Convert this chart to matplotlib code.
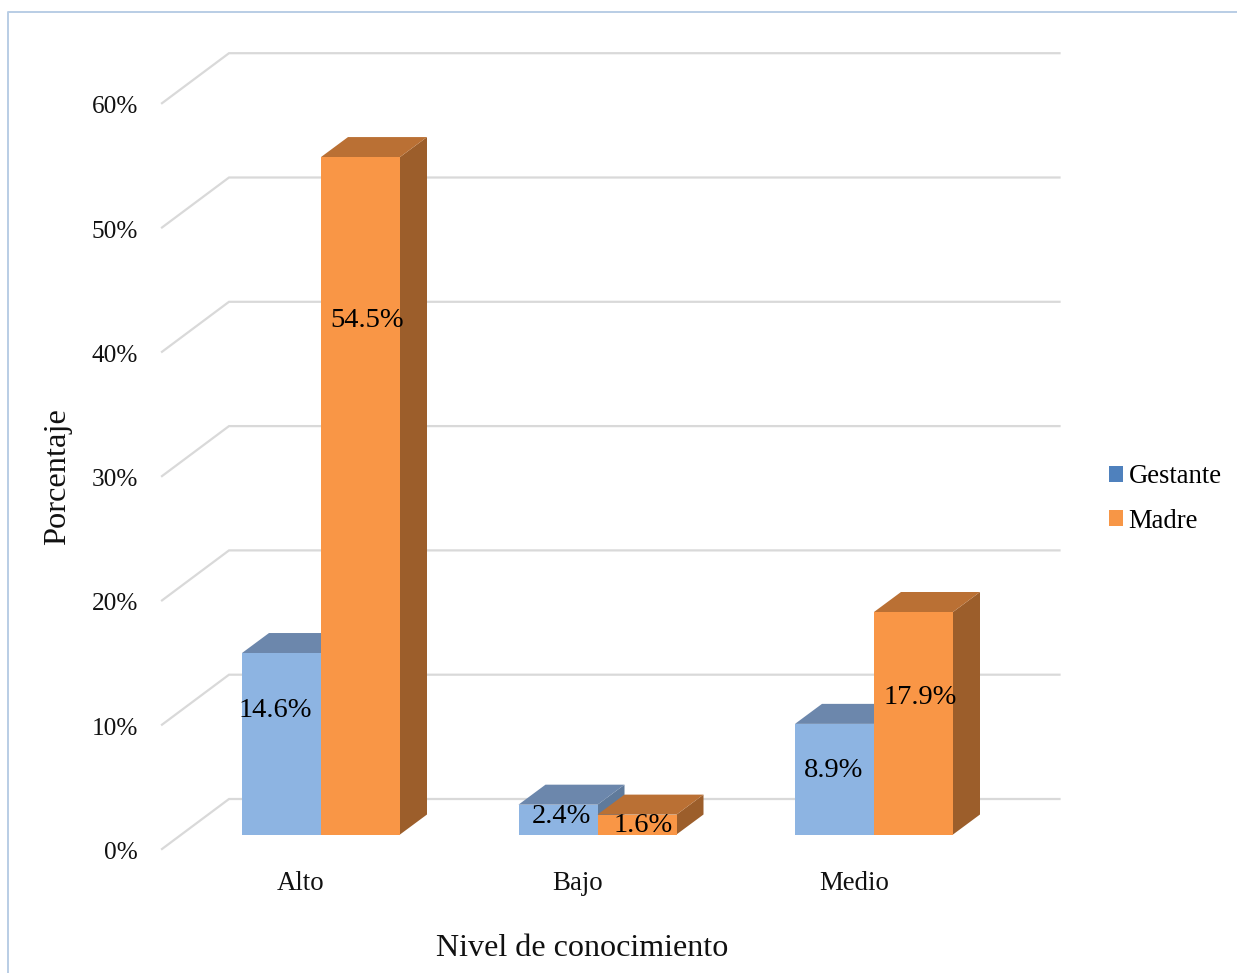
import matplotlib
matplotlib.use("Agg")
import matplotlib.pyplot as plt
from matplotlib.patches import Patch, Polygon, Rectangle

plt.rcParams['font.family'] = ['Liberation Serif', 'DejaVu Serif']

categories = ['Alto', 'Bajo', 'Medio']
gestante = [14.6, 2.4, 8.9]
madre = [54.5, 1.6, 17.9]
y_ticks = [0, 10, 20, 30, 40, 50, 60]

W, H = 1237, 973
# pixel scale of the axes
PX_X = 276.5       # px per category
PX_Y = 12.43       # px per percentage point
X0, Y0 = 321, 834.5  # where category 0 / value 0 land

BAR_W = 79 / PX_X
DEPTH_X = 27 / PX_X
DEPTH_Y = 20 / PX_Y

BLUE = dict(front='#8DB4E2', top='#6C87AC', side='#5F7A9B')
ORANGE = dict(front='#F99646', top='#BA7034', side='#9C5E2B')
GRID = '#D9D9D9'


def bar3d(ax, left, value, colors, z):
    right = left + BAR_W
    ax.add_patch(Polygon([(right, 0), (right + DEPTH_X, DEPTH_Y),
                          (right + DEPTH_X, value + DEPTH_Y), (right, value)],
                         fc=colors['side'], ec='none', zorder=z))
    ax.add_patch(Polygon([(left, value), (left + DEPTH_X, value + DEPTH_Y),
                          (right + DEPTH_X, value + DEPTH_Y), (right, value)],
                         fc=colors['top'], ec='none', zorder=z))
    ax.add_patch(Rectangle((left, 0), BAR_W, value,
                           fc=colors['front'], ec='none', zorder=z))


fig = plt.figure(figsize=(W / 100, H / 100), dpi=100)
ax = fig.add_axes([0, 0, 1, 1])
ax.set_xlim(-X0 / PX_X, (W - X0) / PX_X)
ax.set_ylim((Y0 - H) / PX_Y, Y0 / PX_Y)
ax.axis('off')

# outer frame, only the left and top sides are visible
ax.plot([8 / W, 8 / W, 1], [0, 1 - 12 / H, 1 - 12 / H], transform=ax.transAxes,
        color='#B9CDE5', lw=1.4, zorder=0)

# floor and back wall gridlines
floor_x0 = (162 - X0) / PX_X
wall_x0 = (229 - X0) / PX_X
wall_x1 = (1059.5 - X0) / PX_X
floor_dy = -14.5 / PX_Y
wall_dy = 35.5 / PX_Y
for t in y_ticks:
    ax.plot([floor_x0, wall_x0, wall_x1],
            [t + floor_dy, t + wall_dy, t + wall_dy],
            color=GRID, lw=1.6, zorder=1, solid_joinstyle='miter')
    ax.text(floor_x0 - 24 / PX_X, t + floor_dy - 4 / PX_Y, f'{t}%', ha='right',
            va='center', fontsize=18.2, color='#111111')

for i, cat in enumerate(categories):
    bar3d(ax, i - BAR_W, gestante[i], BLUE, 2 + i)
    bar3d(ax, i, madre[i], ORANGE, 2.5 + i)
    ax.text(i - 20 / PX_X, -55.5 / PX_Y, cat, ha='center', va='baseline',
            fontsize=19.4, color='#111111')

# data labels sit around the middle of each front face
gest_lbl_dx = [-46, -36, -40.5]
gest_lbl_y = [9.94, 1.46, 5.16]
madre_lbl_dx = [46, 46, 46]
madre_lbl_y = [41.36, 0.69, 11.06]
for i in range(len(categories)):
    ax.text(i + gest_lbl_dx[i] / PX_X, gest_lbl_y[i], f'{gestante[i]}%', ha='center',
            va='center', fontsize=20.5, color='black', zorder=10)
    ax.text(i + madre_lbl_dx[i] / PX_X, madre_lbl_y[i], f'{madre[i]}%', ha='center',
            va='center', fontsize=20.5, color='black', zorder=10)

ax.text((582.5 - X0) / PX_X, (Y0 - 948) / PX_Y, 'Nivel de conocimiento', ha='center',
        va='center', fontsize=23.1, color='#111111')
ax.text((57.5 - X0) / PX_X, (Y0 - 477) / PX_Y, 'Porcentaje', ha='center', va='center',
        rotation=90, fontsize=23.4, color='#111111')

handles = [Patch(fc='#4F81BD', label='Gestante'), Patch(fc='#F79646', label='Madre')]
ax.legend(handles=handles, loc='center left', bbox_to_anchor=(1101 / W, 1 - 499 / H),
          frameon=False, fontsize=19.2, handlelength=0.53, handleheight=0.53,
          handletextpad=0.2, labelspacing=0.73, borderpad=0, borderaxespad=0.3)

fig.savefig('out.png', dpi=100)
